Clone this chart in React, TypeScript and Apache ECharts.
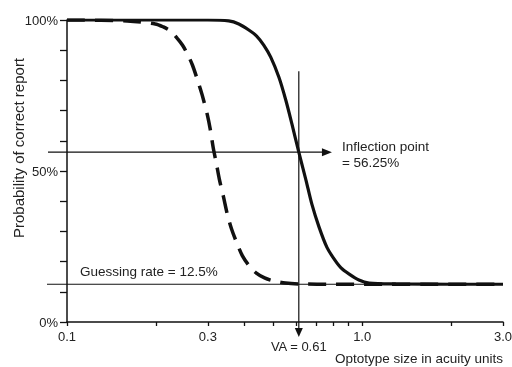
import React, { useEffect, useRef } from "react";
import * as echarts from "echarts";

// Psychometric curves: [optotype size, probability]
const solidCurve: [number, number][] = [
  [0.1, 1.0], [0.3, 1.0], [0.353, 0.997], [0.382, 0.987], [0.413, 0.967],
  [0.439, 0.947], [0.464, 0.917], [0.49, 0.877], [0.522, 0.811], [0.551, 0.735],
  [0.578, 0.656], [0.61, 0.5625], [0.645, 0.47], [0.675, 0.391], [0.714, 0.315],
  [0.759, 0.248], [0.803, 0.209], [0.848, 0.179], [0.902, 0.159], [0.975, 0.139],
  [1.056, 0.129], [1.3, 0.126], [2.0, 0.125], [3.0, 0.125],
];
const dashedCurve: [number, number][] = [
  [0.1, 1.0], [0.16, 0.997], [0.199, 0.987], [0.212, 0.977], [0.224, 0.964],
  [0.236, 0.94], [0.246, 0.917], [0.256, 0.887], [0.266, 0.851], [0.276, 0.805],
  [0.287, 0.752], [0.299, 0.685], [0.306, 0.636], [0.313, 0.576], [0.321, 0.523],
  [0.328, 0.474], [0.339, 0.414], [0.349, 0.358], [0.361, 0.308], [0.375, 0.265],
  [0.393, 0.219], [0.415, 0.185], [0.438, 0.162], [0.467, 0.146], [0.497, 0.137],
  [0.55, 0.129], [0.618, 0.126], [0.8, 0.125], [3.0, 0.125],
];
const xTickValues = [0.1, 0.2, 0.3, 0.4, 0.5, 0.6, 0.7, 0.8, 0.9, 1, 2, 3];
const xLabelValues = [0.1, 0.3, 1, 3];
const yLabelValues = [0, 0.5, 1];
const inflectionX = 0.61;
const inflectionY = 0.5625;
const guessingRate = 0.125;
const arrowEndX = 0.79;
const vaLineTop = 0.83;
const texts = {
  yName: "Probability of correct report",
  xName: "Optotype size in acuity units",
  inflection1: "Inflection point",
  inflection2: "= 56.25%",
  guessing: "Guessing rate = 12.5%",
  va: "VA = 0.61",
};

const FONT = '"Liberation Sans", Arial, sans-serif';
const INK = "#111";
const TXT = "#222";

export default function App() {
  const ref = useRef<HTMLDivElement>(null);
  useEffect(() => {
    if (!ref.current) return;
    const chart = echarts.init(ref.current, null, { renderer: "svg" });
    chart.setOption({
      animation: false,
      grid: { left: 67, right: 9, top: 20, bottom: 45, outerBoundsMode: "none" },
      xAxis: {
        type: "log",
        logBase: 10,
        min: 0.1,
        max: 3,
        axisLine: { lineStyle: { color: INK, width: 1.5 } },
        axisTick: { show: true, inside: false, length: 4, customValues: xTickValues, lineStyle: { color: INK, width: 1.3 } },
        minorTick: { show: false },
        splitLine: { show: false },
        axisLabel: {
          customValues: xLabelValues,
          formatter: (v: number) => v.toFixed(1),
          margin: 8,
          color: TXT,
          fontSize: 13,
          fontFamily: FONT,
        },
      },
      yAxis: {
        type: "value",
        min: 0,
        max: 1,
        interval: 0.1,
        axisLine: { show: true, lineStyle: { color: INK, width: 1.5 } },
        axisTick: { show: true, inside: false, length: 7, lineStyle: { color: INK, width: 1.3 } },
        splitLine: { show: false },
        axisLabel: {
          margin: 9,
          color: TXT,
          fontSize: 13,
          fontFamily: FONT,
          formatter: (v: number) =>
            yLabelValues.some((l) => Math.abs(l - v) < 1e-6) ? `${Math.round(v * 100)}%` : "",
        },
      },
      series: [
        {
          type: "line",
          data: dashedCurve,
          showSymbol: false,
          smooth: 0.3,
          lineStyle: { color: INK, width: 3.5, type: [18, 10] },
        },
        {
          type: "line",
          data: solidCurve,
          showSymbol: false,
          smooth: 0.3,
          lineStyle: { color: INK, width: 3.2 },
        },
      ],
    });

    const px = (x: number, y: number) => chart.convertToPixel({ xAxisIndex: 0, yAxisIndex: 0 }, [x, y]) as number[];
    const [x0, yI] = px(0.1, inflectionY);
    const [xTip] = px(arrowEndX, inflectionY);
    const [, yG] = px(0.1, guessingRate);
    const [xR] = px(3, guessingRate);
    const [xV, yTop] = px(inflectionX, vaLineTop);
    const [, yZero] = px(inflectionX, 0);
    const yVTip = yZero + 15;
    const lineStyle = { stroke: INK, lineWidth: 1.2 };
    const txt = (text: string, x: number, y: number, align: string, size = 13.5, extra: any = {}) => ({
      type: "text",
      x,
      y,
      ...extra,
      style: {
        text,
        x: 0,
        y: 0,
        fill: TXT,
        font: `${size}px ${FONT}`,
        align,
        textAlign: align,
        verticalAlign: "middle",
        textVerticalAlign: "middle",
      },
    });

    chart.setOption({
      graphic: [
        { type: "line", shape: { x1: x0 - 19, y1: yI, x2: xTip - 8, y2: yI }, style: lineStyle },
        { type: "polygon", shape: { points: [[xTip - 10, yI - 4], [xTip, yI], [xTip - 10, yI + 4]] }, style: { fill: INK } },
        { type: "line", shape: { x1: x0 - 20, y1: yG, x2: xR, y2: yG }, style: lineStyle },
        { type: "line", shape: { x1: xV, y1: yTop, x2: xV, y2: yVTip - 8 }, style: lineStyle },
        { type: "polygon", shape: { points: [[xV - 4, yVTip - 9], [xV, yVTip], [xV + 4, yVTip - 9]] }, style: { fill: INK } },
        txt(texts.inflection1, xTip + 10, yI - 6, "left"),
        txt(texts.inflection2, xTip + 10, yI + 10, "left"),
        txt(texts.guessing, x0 + 13, yG - 12.5, "left"),
        txt(texts.va, xV, yZero + 24, "center", 13),
        txt(texts.xName, xR, yZero + 36, "right"),
        txt(texts.yName, 18, 148, "center", 15, { rotation: Math.PI / 2 }),
      ],
    });

    return () => chart.dispose();
  }, []);
  return <div ref={ref} style={{ position: "fixed", left: 0, top: 0, width: 512, height: 367 }} />;
}
